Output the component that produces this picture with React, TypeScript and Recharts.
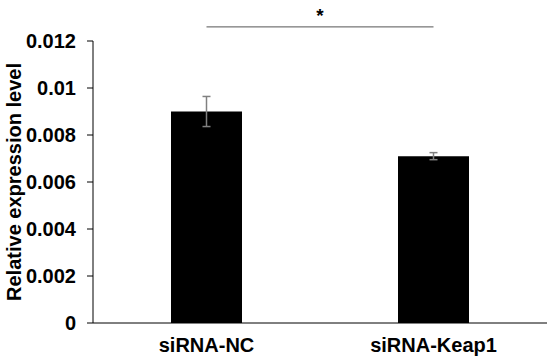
import React from 'react';
import { ComposedChart, Bar, XAxis, YAxis, ErrorBar, ReferenceLine, Label } from 'recharts';

const categories = ['siRNA-NC', 'siRNA-Keap1'];
const values = [0.009, 0.0071];
const errors = [0.00064, 0.00015];
const yTicks = [0, 0.002, 0.004, 0.006, 0.008, 0.01, 0.012];
const sigLevel = 0.0126;
const sigMark = '*';
const yTitle = 'Relative expression level';

const data = categories.map((c, i) => ({ name: c, value: values[i], err: errors[i] }));

const FONT = '"Liberation Sans", Arial, sans-serif';

const YTitle = (props: any) => {
  const vb = props.viewBox || { x: 0, y: 0, width: 0, height: 0 };
  const cx = vb.x + 14;
  const cy = vb.y + vb.height / 2;
  return (
    <text
      x={cx}
      y={cy}
      transform={`rotate(-90 ${cx} ${cy})`}
      textAnchor="middle"
      dominantBaseline="central"
      fontFamily={FONT}
      fontWeight="bold"
      fontSize={20}
      fill="#000"
    >
      {yTitle}
    </text>
  );
};

export default function App() {
  return (
    <div style={{ position: 'absolute', left: 0, top: 0, width: 550, height: 363, background: '#fff' }}>
      <ComposedChart
        width={550}
        height={363}
        data={data}
        margin={{ top: 41, right: 3, bottom: 0, left: 0 }}
        barSize={71}
      >
        <XAxis
          dataKey="name"
          height={40}
          axisLine={{ stroke: '#000', strokeWidth: 1 }}
          tickLine={false}
          tickSize={0}
          tickMargin={15}
          tick={{ fontFamily: FONT, fontWeight: 'bold', fontSize: 20, fill: '#000' }}
          interval={0}
        />
        <YAxis
          width={93}
          domain={[0, 0.012]}
          ticks={yTicks}
          allowDataOverflow
          axisLine={{ stroke: '#000', strokeWidth: 1 }}
          tickLine={{ stroke: '#000', strokeWidth: 1 }}
          tickSize={6}
          tickMargin={11}
          tick={{ fontFamily: FONT, fontWeight: 'bold', fontSize: 20, fill: '#000' }}
          tickFormatter={(v: number) => String(v)}
        >
          <Label content={<YTitle />} position="insideLeft" />
        </YAxis>
        <Bar dataKey="value" fill="#000" isAnimationActive={false}>
          <ErrorBar dataKey="err" width={4} stroke="#808080" strokeWidth={1.5} direction="y" />
        </Bar>
        <ReferenceLine
          segment={[
            { x: categories[0], y: sigLevel },
            { x: categories[1], y: sigLevel },
          ]}
          ifOverflow="visible"
          stroke="#555"
          strokeWidth={1}
          label={{
            value: sigMark,
            position: 'top',
            offset: 5,
            fontFamily: FONT,
            fontWeight: 'bold',
            fontSize: 19,
            fill: '#000',
          }}
        />
      </ComposedChart>
    </div>
  );
}
